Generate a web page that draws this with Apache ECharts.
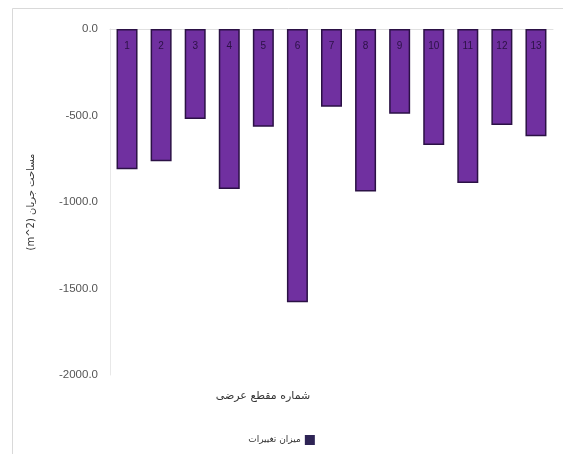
<!DOCTYPE html>
<html><head><meta charset="utf-8">
<script src="https://cdn.jsdelivr.net/npm/echarts@6/dist/echarts.min.js"></script>
<style>html,body{margin:0;padding:0;background:#fff}#c{width:563px;height:454px}</style>
</head><body><div id="c"></div>
<script>
const categories = ['1','2','3','4','5','6','7','8','9','10','11','12','13'];
const values = [-810, -765, -520, -925, -565, -1580, -450, -940, -490, -670, -890, -555, -620];
const yTicks = [0, -500, -1000, -1500, -2000];
const seriesName = 'میزان تغییرات';
const xTitle = 'شماره مقطع عرضی';
const yTitle = '(m^2) مساحت جریان';

const chart = echarts.init(document.getElementById('c'));
chart.setOption({
  backgroundColor: '#fff',
  animation: false,
  graphic: [{type:'rect', shape:{x:12.5,y:8.5,width:560,height:460}, style:{fill:'none', stroke:'#d9d9d9', lineWidth:1}, z:-1}],
  grid: {left: 110, right: 10, top: 29, bottom: 79},
  title: {text: xTitle, left: 258, top: 386, textAlign:'center',
    textStyle:{fontSize:11, fontWeight:'normal', color:'#333', fontFamily:'DejaVu Sans'}},
  legend: {data:[{name: seriesName, icon:'rect'}], left: 'center', top: 430, align:'right', itemWidth:8, itemHeight:8,
    itemGap: 4, itemStyle:{color:'#2e2455', borderColor:'#2e2455'},
    textStyle:{fontSize:9, color:'#333', fontFamily:'DejaVu Sans'}},
  xAxis: {type:'category', data: categories, position:'top',
    axisLine:{show:true, lineStyle:{color:'#e0e0e0'}}, axisTick:{show:false}, axisLabel:{show:false}},
  yAxis: {type:'value', min:-2000, max:0, interval:500,
    name: yTitle, nameLocation:'middle', nameGap: 74, nameRotate: 90,
    nameTextStyle:{fontSize:10, color:'#333', fontFamily:'DejaVu Sans'},
    axisLine:{show:true, lineStyle:{color:'#e8e8e8'}}, axisTick:{show:false}, splitLine:{show:false},
    axisLabel:{fontSize:11.5, color:'#555', margin: 12, fontFamily:'Liberation Sans',
      formatter: v => yTicks.includes(v) ? v.toFixed(1) : ''}},
  series: [{type:'bar', name: seriesName, data: values, barWidth: 21,
    itemStyle:{color:'#7030A0', borderColor:'#2b1145', borderWidth:1.5},
    label:{show:true, position:'insideTop', distance:12, fontSize:10, color:'#2b1145',
      formatter: p => categories[p.dataIndex]}}]
});
</script></body></html>
